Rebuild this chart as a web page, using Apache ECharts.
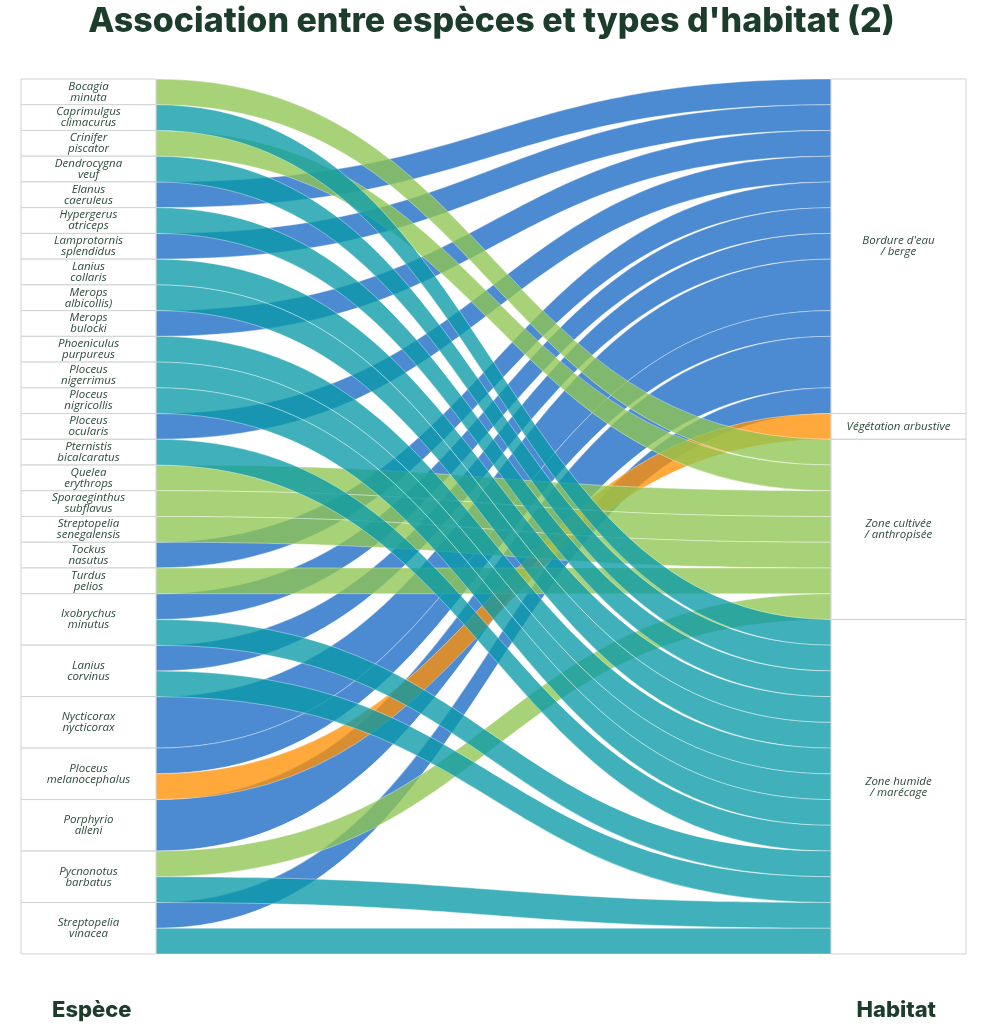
<!DOCTYPE html>
<html>
<head>
<meta charset="utf-8">
<title>Association entre espèces et types d'habitat (2)</title>
<script src="https://cdn.jsdelivr.net/npm/echarts@6/dist/echarts.min.js"></script>
<style>
  html, body { margin: 0; padding: 0; background: #fff; }
  #main { width: 983px; height: 1024px; }
</style>
</head>
<body>
<div id="main"></div>
<script>
// especes (colonne de gauche), dans l'ordre d'affichage
var especes = [
    'Bocagia\nminuta', 'Caprimulgus\nclimacurus', 'Crinifer\npiscator', 'Dendrocygna\nveuf',
    'Elanus\ncaeruleus', 'Hypergerus\natriceps', 'Lamprotornis\nsplendidus', 'Lanius\ncollaris',
    'Merops\nalbicollis)', 'Merops\nbulocki', 'Phoeniculus\npurpureus', 'Ploceus\nnigerrimus',
    'Ploceus\nnigricollis', 'Ploceus\nocularis', 'Pternistis\nbicalcaratus', 'Quelea\nerythrops',
    'Sporaeginthus\nsubflavus', 'Streptopelia\nsenegalensis', 'Tockus\nnasutus', 'Turdus\npelios',
    'Ixobrychus\nminutus', 'Lanius\ncorvinus', 'Nycticorax\nnycticorax', 'Ploceus\nmelanocephalus',
    'Porphyrio\nalleni', 'Pycnonotus\nbarbatus', 'Streptopelia\nvinacea'
];

var habitats = ["Bordure d'eau\n/ berge", 'Végétation arbustive', 'Zone cultivée\n/ anthropisée', 'Zone humide\n/ marécage'];
var habitatColors = ['#1a6ac4', '#ff9005', '#90c551', '#0a9aa8'];

// [espece, valeur] par habitat
var bordure = [[4, 1], [6, 1], [9, 1], [13, 1], [18, 1], [20, 1], [21, 1], [22, 2], [23, 1], [24, 2], [26, 1]];
var vegetation = [[23, 1]];
var cultivee = [[0, 1], [2, 1], [15, 1], [16, 1], [17, 1], [19, 1], [25, 1]];
var humide = [[1, 1], [3, 1], [5, 1], [7, 1], [8, 1], [10, 1], [11, 1], [12, 1], [14, 1], [20, 1], [21, 1], [25, 1], [26, 1]];
var parHabitat = [bordure, vegetation, cultivee, humide];

var nodes = especes.map(function (n) { return { name: n, depth: 0 }; })
    .concat(habitats.map(function (n) { return { name: n, depth: 1 }; }));

var links = [];
parHabitat.forEach(function (liste, h) {
    liste.forEach(function (l) {
        links.push({
            source: especes[l[0]],
            target: habitats[h],
            value: l[1],
            lineStyle: { color: habitatColors[h] }
        });
    });
});

var vert = '#1c3d2b';

var option = {
    backgroundColor: '#fff',
    animation: false,
    title: [
        {
            text: "Association entre espèces et types d'habitat (2)",
            left: 'center',
            top: 0,
            textStyle: { fontFamily: 'Inter', fontWeight: 800, fontSize: 34, color: vert }
        },
        {
            text: 'Espèce',
            left: 47,
            top: 994,
            textStyle: { fontFamily: 'Inter', fontWeight: 800, fontSize: 22, color: vert }
        },
        {
            text: 'Habitat',
            right: 42,
            top: 994,
            textStyle: { fontFamily: 'Inter', fontWeight: 800, fontSize: 22, color: vert }
        }
    ],
    series: [{
        type: 'sankey',
        left: 21,
        right: 17,
        top: 79,
        bottom: 70,
        nodeWidth: 135,
        nodeGap: 0,
        layoutIterations: 0,
        draggable: false,
        emphasis: { disabled: true },
        data: nodes,
        links: links,
        itemStyle: {
            color: '#fff',
            borderColor: '#cfd3d2',
            borderWidth: 1
        },
        label: {
            position: 'inside',
            align: 'center',
            fontFamily: 'Open Sans',
            fontStyle: 'italic',
            fontSize: 11.5,
            lineHeight: 11,
            color: '#2c4a3b'
        },
        lineStyle: {
            opacity: 0.78,
            curveness: 0.5,
            borderColor: 'rgba(255,255,255,0.8)',
            borderWidth: 0.6
        }
    }]
};

var myChart = echarts.init(document.getElementById('main'));
myChart.setOption(option);
</script>
</body>
</html>
